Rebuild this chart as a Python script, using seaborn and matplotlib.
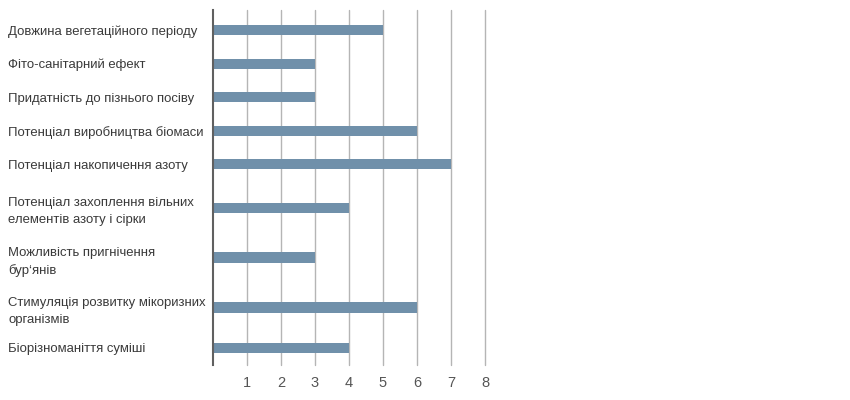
import numpy as np
import pandas as pd
import matplotlib
matplotlib.use('Agg')
import matplotlib.pyplot as plt
import seaborn as sns

# Data
categories = [
    'Довжина вегетаційного періоду',
    'Фіто-санітарний ефект',
    'Придатність до пізнього посіву',
    'Потенціал виробництва біомаси',
    'Потенціал накопичення азоту',
    'Потенціал захоплення вільних\nелементів азоту і сірки',
    'Можливість пригнічення\nбур‘янів',
    'Стимуляція розвитку мікоризних\nорганізмів',
    'Біорізноманіття суміші',
]
scores = [5, 3, 3, 6, 7, 4, 3, 6, 4]
x_ticks = [1, 2, 3, 4, 5, 6, 7, 8]

# row height grows with number of label lines; bar sits a bit below row middle
n_lines = np.array([c.count('\n') + 1 for c in categories])
band = 1 + 0.49 * (n_lines - 1)
frac = 0.6
pos = np.cumsum(band) - (1 - frac) * band

df = pd.DataFrame({'category': categories, 'score': scores, 'pos': pos})

sns.set_style('white')
plt.rcParams['font.family'] = ['Liberation Sans', 'DejaVu Sans']

fig = plt.figure(figsize=(8.5, 4), dpi=100)
ax = fig.add_axes([213 / 850, 1 - 365 / 400, 272 / 850, 355 / 400])

sns.barplot(data=df, x='score', y='pos', orient='y', native_scale=True,
            color='#7090aa', saturation=1, width=0.3, linewidth=0, ax=ax)

ax.set_xlim(0, 8)
ax.set_ylim(band.sum() + 0.12, 0)
ax.set_xticks(x_ticks)
ax.xaxis.grid(True, color='#b5b5b5', linewidth=1)
for g in ax.get_xgridlines():
    g.set_clip_on(False)
ax.set_axisbelow(True)
ax.set_yticks(pos, categories)
for t in ax.get_yticklabels():
    t.set_horizontalalignment('left')
    t.set_linespacing(1.55)
ax.tick_params(axis='y', length=0, pad=147.5, labelsize=9.45, labelcolor='#3a3a3a')
ax.tick_params(axis='x', length=0, pad=8, labelsize=10.5, labelcolor='#555555')
ax.set_xlabel('')
ax.set_ylabel('')
for s in ['top', 'right', 'bottom']:
    ax.spines[s].set_visible(False)
ax.spines['left'].set_color('#606060')
ax.spines['left'].set_linewidth(1.5)

fig.savefig('out.png', dpi=100)
